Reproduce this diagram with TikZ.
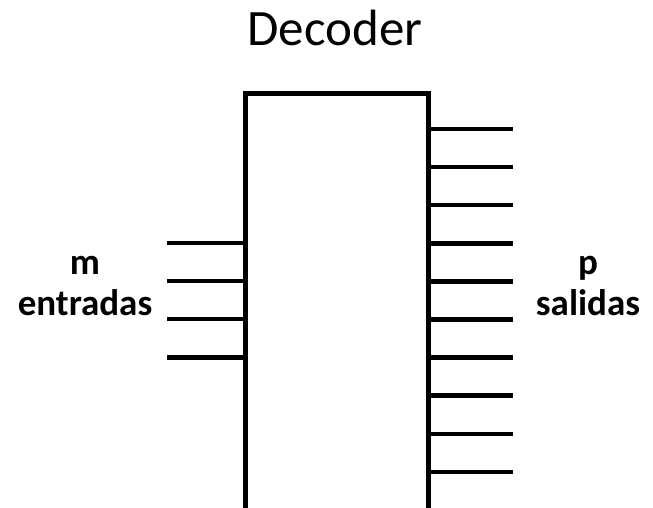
\documentclass[tikz,border=0pt]{standalone}
\usepackage{fontspec}
\setmainfont{Carlito}

\tikzset{
  decbox/.style = {draw, line width=5pt, rectangle, inner sep=0pt,
                   minimum width=183pt, minimum height=440pt},
  lead/.style   = {line width=4.5pt},
  pinlabel/.style = {font=\fontsize{37}{41}\selectfont\bfseries, align=center}
}

\begin{document}
\begin{tikzpicture}[x=1pt,y=-1pt]
\useasboundingbox (0,0) rectangle (653,507);
\clip (0,0) rectangle (653,507);

   \node[font=\fontsize{51}{56}\selectfont] (title) at (335,28) {Decoder};
   \node[decbox] (dec) at (336.5,313) {};

%  m inputs on the left side
   \foreach \i in {0,...,3}{
     \coordinate (in\i) at (167,243+38.1*\i);
     \draw[lead] (in\i) -- (in\i -| dec.west);
   }
%  p outputs on the right side
   \foreach \i in {0,...,9}{
     \coordinate (out\i) at (513,129+38.1*\i);
     \draw[lead] (dec.east |- out\i) -- (out\i);
   }

   \node[pinlabel] (inlabel) at (85,286) {m\\entradas};
   \node[pinlabel] (outlabel) at (588,286) {p\\salidas};

\end{tikzpicture}
\end{document}
